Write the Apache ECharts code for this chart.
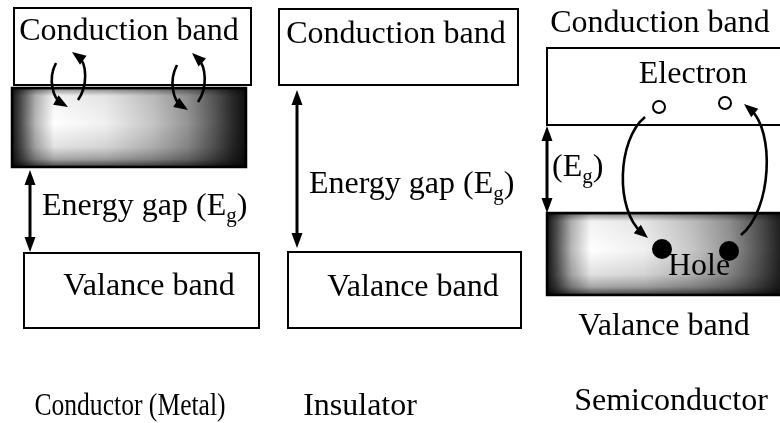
<!DOCTYPE html>
<html>
<head>
<meta charset="utf-8">
<script src="https://cdn.jsdelivr.net/npm/echarts@6/dist/echarts.min.js"></script>
<style>html,body{margin:0;padding:0;background:#fff}#c{width:780px;height:423px}</style>
</head>
<body>
<div id="c"></div>
<script>
// ---- text content ----
const panelNames = ['Conductor (Metal)', 'Insulator', 'Semiconductor'];
const bandNames = ['Conduction band', 'Valance band'];
const gapParts = ['Energy gap (E', 'g', ')'];
const gapShortParts = ['(E', 'g', ')'];
const carrierNames = ['Electron', 'Hole'];

// ---- diagram geometry (axis units, x: 0..780, y: 0..423 top-down) ----
const plainBoxes = [[14, 8, 251, 85], [24, 253, 259, 328], [279, 9, 518, 85], [288, 252, 521, 328], [547, 48, 790, 125]];
const shadedBoxes = [[12, 88, 246, 167], [547, 213, 790, 295]];
const bandLabelPos = [[129, 32, 0], [149, 287, 1], [396, 35, 0], [413, 288, 1], [660, 24, 0], [664, 327, 1]];
const panelLabelPos = [[130, 407, 0.8], [360, 407, 1], [671, 402, 1]];
const gapLabelPos = [[42, 207, 0], [309, 185, 0], [552, 168, 1]];
const carrierLabelPos = [[693, 75], [699, 267]];
const doubleArrows = [[30, 170, 252], [297, 90, 248], [547, 126, 213]];
const openCircles = [[659, 107], [725, 103]];
const filledCircles = [[662, 249], [729, 251]];
const curvedArrows = [
  [[56, 63], [47, 80], [54, 99], [68, 107]],
  [[78, 100], [88, 86], [87, 63], [72, 52]],
  [[177, 65], [168, 82], [174, 101], [188, 110]],
  [[198, 102], [208, 88], [206, 66], [192, 53]],
  [[645, 117], [617, 140], [615, 210], [648, 238]],
  [[741, 235], [772, 210], [775, 130], [744, 104]]
];

const FONT = '"Liberation Serif", "Times New Roman", serif';
const FS = 32, SUBFS = 21;
const measureCtx = document.createElement('canvas').getContext('2d');
function textW(t, fs) { measureCtx.font = fs + 'px ' + FONT; return measureCtx.measureText(t).width; }

function arrowHead(tip, from, L, Wd) {
  let dx = tip[0] - from[0], dy = tip[1] - from[1];
  const len = Math.hypot(dx, dy) || 1; dx /= len; dy /= len;
  const bx = tip[0] - dx * L, by = tip[1] - dy * L;
  return {type: 'polygon', shape: {points: [tip, [bx - dy * Wd, by + dx * Wd], [bx + dy * Wd, by - dx * Wd]]}, style: {fill: '#000'}};
}

function shadeGradients() {
  const h = new echarts.graphic.LinearGradient(0, 0, 1, 0, [
    {offset: 0, color: '#151515'}, {offset: 0.04, color: '#505050'}, {offset: 0.1, color: '#b5b5b5'},
    {offset: 0.18, color: '#ffffff'}, {offset: 0.4, color: '#f0f0f0'}, {offset: 0.6, color: '#c5c5c5'},
    {offset: 0.75, color: '#959595'}, {offset: 0.87, color: '#555555'}, {offset: 0.95, color: '#262626'},
    {offset: 1, color: '#101010'}]);
  const v = new echarts.graphic.LinearGradient(0, 0, 0, 1, [
    {offset: 0, color: 'rgba(0,0,0,0.85)'}, {offset: 0.03, color: 'rgba(0,0,0,0.35)'},
    {offset: 0.1, color: 'rgba(0,0,0,0.05)'}, {offset: 0.45, color: 'rgba(0,0,0,0)'},
    {offset: 0.75, color: 'rgba(0,0,0,0.12)'}, {offset: 0.9, color: 'rgba(0,0,0,0.35)'},
    {offset: 1, color: 'rgba(0,0,0,0.75)'}]);
  return [h, v];
}

function text(str, p, fs, align, extra) {
  return Object.assign({type: 'text', x: p[0], y: p[1],
    style: {text: str, x: 0, y: 0, fill: '#000', fontSize: fs, fontFamily: FONT, align: align, verticalAlign: 'middle'}}, extra || {});
}

function renderItem(params, api) {
  const c = p => api.coord(p);
  const ch = [];
  const rectOf = b => { const a = c([b[0], b[1]]), z = c([b[2], b[3]]); return {x: a[0], y: a[1], width: z[0] - a[0], height: z[1] - a[1]}; };
  shadedBoxes.forEach(b => {
    const r = rectOf(b); const g = shadeGradients();
    ch.push({type: 'rect', shape: r, style: {fill: g[0]}});
    ch.push({type: 'rect', shape: r, style: {fill: g[1]}});
    ch.push({type: 'rect', shape: r, style: {fill: 'none', stroke: '#000', lineWidth: 2.5}});
  });
  plainBoxes.forEach(b => ch.push({type: 'rect', shape: rectOf(b), style: {fill: 'none', stroke: '#000', lineWidth: 2}}));
  bandLabelPos.forEach(p => ch.push(text(bandNames[p[2]], c(p), FS, 'center')));
  carrierLabelPos.forEach((p, i) => ch.push(text(carrierNames[i], c(p), FS, 'center')));
  panelLabelPos.forEach((p, i) => ch.push(text(panelNames[i], c(p), FS, 'center', {scaleX: p[2]})));
  gapLabelPos.forEach(p => {
    const parts = p[2] ? gapShortParts : gapParts;
    const q = c(p);
    const w0 = textW(parts[0], FS), w1 = textW(parts[1], SUBFS);
    ch.push(text(parts[0], q, FS, 'left'));
    ch.push(text(parts[1], [q[0] + w0, q[1] + 9], SUBFS, 'left'));
    ch.push(text(parts[2], [q[0] + w0 + w1, q[1]], FS, 'left'));
  });
  doubleArrows.forEach(a => {
    const t = c([a[0], a[1]]), b = c([a[0], a[2]]);
    ch.push({type: 'line', shape: {x1: t[0], y1: t[1] + 10, x2: b[0], y2: b[1] - 10}, style: {stroke: '#000', lineWidth: 3}});
    ch.push(arrowHead(t, b, 15, 5.5));
    ch.push(arrowHead(b, t, 15, 5.5));
  });
  curvedArrows.forEach(a => {
    const p = a.map(c);
    const dx = p[3][0] - p[2][0], dy = p[3][1] - p[2][1], l = Math.hypot(dx, dy);
    const end = [p[3][0] - dx / l * 8, p[3][1] - dy / l * 8];
    ch.push({type: 'bezierCurve', shape: {x1: p[0][0], y1: p[0][1], cpx1: p[1][0], cpy1: p[1][1], cpx2: p[2][0], cpy2: p[2][1], x2: end[0], y2: end[1]},
      style: {fill: 'none', stroke: '#000', lineWidth: 2.6}});
    ch.push(arrowHead(p[3], p[2], 14, 5.5));
  });
  openCircles.forEach(o => { const q = c(o); ch.push({type: 'circle', shape: {cx: q[0], cy: q[1], r: 6}, style: {fill: '#fff', stroke: '#000', lineWidth: 2}}); });
  filledCircles.forEach(o => { const q = c(o); ch.push({type: 'circle', shape: {cx: q[0], cy: q[1], r: 10}, style: {fill: '#000'}}); });
  return {type: 'group', children: ch};
}

const chart = echarts.init(document.getElementById('c'), null, {renderer: 'canvas'});
chart.setOption({
  animation: false,
  backgroundColor: '#fff',
  grid: {left: 0, right: 0, top: 0, bottom: 0},
  xAxis: {type: 'value', min: 0, max: 780, show: false},
  yAxis: {type: 'value', min: 0, max: 423, inverse: true, show: false},
  series: [{type: 'custom', clip: false, renderItem: renderItem, data: [[0, 0]], silent: true}]
});
</script>
</body>
</html>
